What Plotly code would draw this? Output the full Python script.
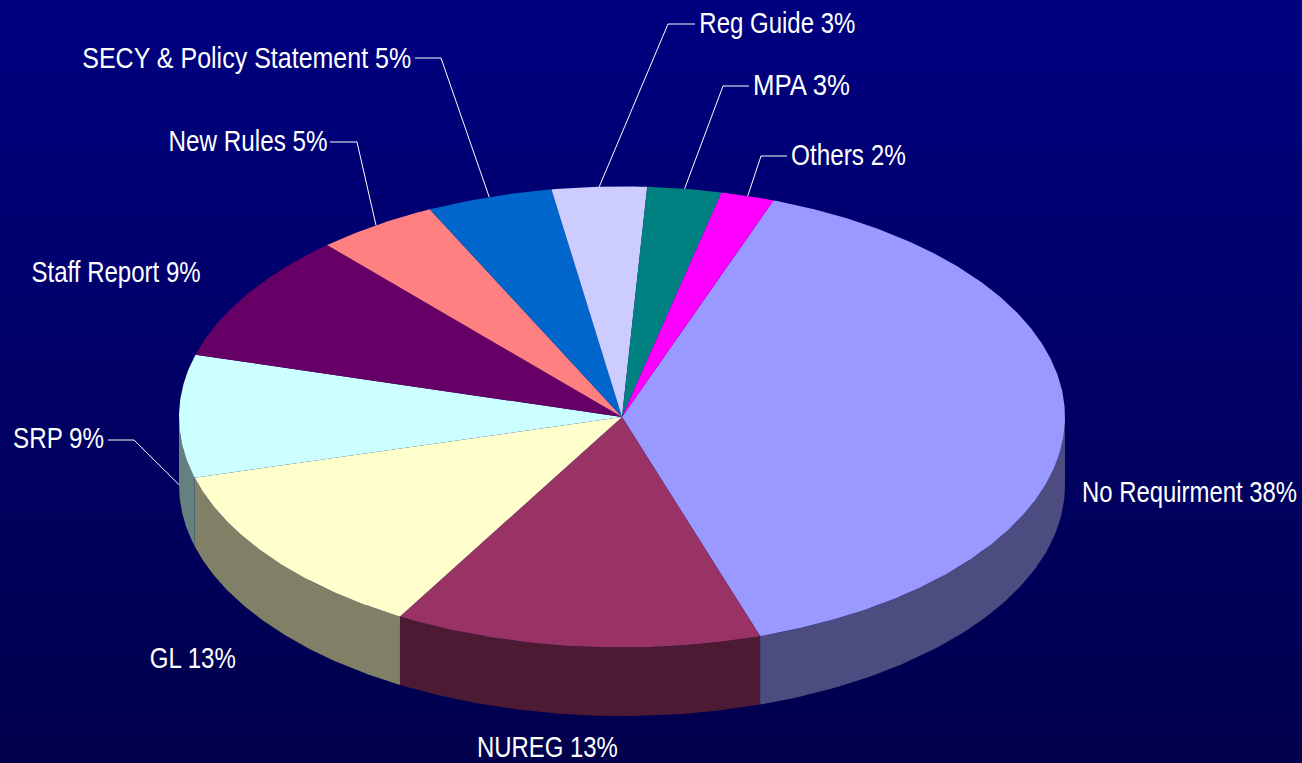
import json
import numpy as np
import plotly.graph_objects as go

# --- data, clockwise from the first slice ---
categories = ["No Requirment", "NUREG", "GL", "SRP", "Staff Report", "New Rules",
              "SECY & Policy Statement", "Reg Guide", "MPA", "Others"]
percent_labels = ["38%", "13%", "13%", "9%", "9%", "5%", "5%", "3%", "3%", "2%"]
values = [39.4, 13.4, 12.4, 8.6, 9.05, 4.45, 4.6, 3.45, 2.7, 1.95]
colors = [(153, 153, 255), (153, 51, 102), (255, 255, 204), (204, 255, 255), (102, 0, 102),
          (255, 128, 128), (0, 102, 204), (204, 204, 255), (0, 128, 128), (255, 0, 255)]

# --- layout of the tilted pie ---
W, H = 1302, 763
CX, CY, RX, RY, DEPTH = 622, 417, 443, 230.5, 68.5
START_DEG = 20
SIDE_SHADE = 0.5
FONT = "Liberation Sans, Arial, sans-serif"
FONT_SIZE = 29

# centre x, centre y and drawn width of each label, by category
label_box = {"No Requirment": (1189.5, 492, 215), "NUREG": (547.5, 747, 141), "GL": (193, 658, 86),
             "SRP": (58.5, 438, 91), "Staff Report": (115.5, 272, 169), "New Rules": (247.5, 141, 159),
             "SECY & Policy Statement": (246.5, 58, 329), "Reg Guide": (777, 23, 156),
             "MPA": (801.5, 85, 97), "Others": (848.5, 155, 115)}
# leader lines: label end, elbow; the third point comes from the slice's mid angle
leaders = {"SRP": ((108, 440), (134, 440)), "New Rules": ((330, 142), (357, 142)),
           "SECY & Policy Statement": ((415, 58), (441, 58)), "Reg Guide": ((695, 24), (668, 24)),
           "MPA": ((749, 86), (723, 86)), "Others": ((787, 156), (761, 156))}


def ell(deg, drop=0):
    a = np.radians(deg)
    return CX + RX * np.sin(a), CY - RY * np.cos(a) + drop


def rgb(c, k=1.0):
    return "rgb(%d,%d,%d)" % tuple(round(v * k) for v in c)


total = sum(values)
edges = START_DEG + np.concatenate([[0], np.cumsum(values)]) * 360 / total

fig = go.Figure()
fig.add_trace(go.Scatter(
    x=[0, W, W, 0, 0], y=[0, 0, H, H, 0], mode="lines", line=dict(width=0), fill="toself",
    fillgradient=dict(type="vertical",
                      colorscale=[[0, "rgb(0,0,76)"], [1, "rgb(0,0,128)"]]),
    hoverinfo="skip", showlegend=False))

# side wall: only the front half of the rim (90..270 degrees) is visible
for name, c, a0, a1 in zip(categories, colors, edges[:-1], edges[1:]):
    lo, hi = max(a0, 90), min(a1, 270)
    if lo >= hi:
        continue
    t = np.linspace(lo, hi, 80)
    xt, yt = ell(t)
    xb, yb = ell(t[::-1], DEPTH)
    fig.add_trace(go.Scatter(x=np.r_[xt, xb, xt[0]], y=np.r_[yt, yb, yt[0]], mode="lines",
                             line=dict(width=0), fill="toself", fillcolor=rgb(c, SIDE_SHADE),
                             hoverinfo="skip", showlegend=False))

# top face
for name, pct, c, a0, a1 in zip(categories, percent_labels, colors, edges[:-1], edges[1:]):
    t = np.linspace(a0, a1, max(int(a1 - a0) * 2, 12))
    xt, yt = ell(t)
    fig.add_trace(go.Scatter(x=np.r_[CX, xt, CX], y=np.r_[CY, yt, CY], mode="lines",
                             line=dict(width=0), fill="toself", fillcolor=rgb(c),
                             name=name, text=f"{name} {pct}", hoverinfo="text", showlegend=False))

# leader lines (a slice whose rim touches the visible wall points at the wall)
for name, (p0, p1) in leaders.items():
    i = categories.index(name)
    mid = (edges[i] + edges[i + 1]) / 2
    on_wall = edges[i] < 270 and edges[i + 1] > 90 and edges[i] >= 90
    px, py = ell(mid, DEPTH if on_wall else 0)
    fig.add_trace(go.Scatter(x=[p0[0], p1[0], px], y=[p0[1], p1[1], py], mode="lines",
                             line=dict(color="white", width=1), hoverinfo="skip", showlegend=False))

annotations = [dict(x=label_box[n][0], y=label_box[n][1], xref="x", yref="y", text=f"{n} {p}",
                    showarrow=False, xanchor="center", yanchor="middle", borderpad=0, borderwidth=0,
                    font=dict(family=FONT, size=FONT_SIZE, color="white"))
               for n, p in zip(categories, percent_labels)]

fig.update_layout(width=W, height=H, margin=dict(l=0, r=0, t=0, b=0),
                  paper_bgcolor="rgb(0,0,128)", plot_bgcolor="rgb(0,0,128)", showlegend=False,
                  xaxis=dict(range=[0, W], visible=False, fixedrange=True),
                  yaxis=dict(range=[H, 0], visible=False, fixedrange=True),
                  annotations=annotations)

# the reference's text is narrower than Liberation Sans: fit each label to its drawn width
widths = {f"{n} {p}": label_box[n][2] for n, p in zip(categories, percent_labels)}
post = """
document.body.style.margin='0';document.body.style.overflow='hidden';
(function(){
  var widths = %s;
  function fit(){
    document.querySelectorAll('text.annotation-text').forEach(function(t){
      var w = widths[t.textContent], len = t.getComputedTextLength();
      if(w && len){
        var cx = parseFloat(t.getAttribute('x')) || 0;
        t.setAttribute('transform','translate('+cx+' 0) scale('+(w/len)+' 1) translate('+(-cx)+' 0)');
      }
    });
  }
  fit(); setTimeout(fit,50); setTimeout(fit,300);
})();
""" % json.dumps(widths)
fig.write_html("out.html", config=dict(displayModeBar=False), post_script=post)
